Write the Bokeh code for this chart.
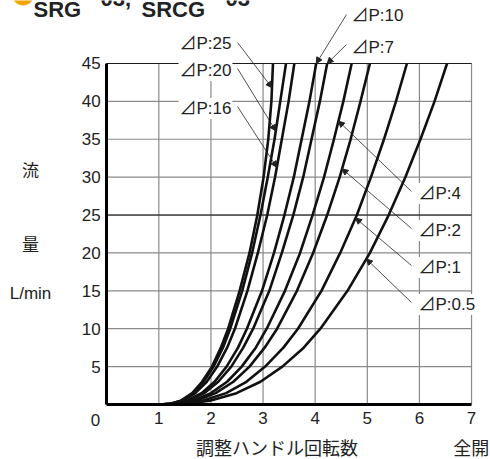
import numpy as np
from bokeh.plotting import figure
from bokeh.models import Label, Arrow, NormalHead, LinearAxis
from bokeh.embed import file_html
from bokeh.resources import INLINE

# flow (L/min) levels and handle turns at which each ΔP curve reaches them
flow_levels = [0, 0.1, 0.5, 1.5, 3, 5, 7.5, 10, 15, 20, 25, 30, 35, 40, 45]
turns_dp25 = [1, 1.22, 1.42, 1.64, 1.83, 2.02, 2.19, 2.33, 2.55, 2.74, 2.89, 3.01, 3.10, 3.16, 3.19]
turns_dp20 = [1, 1.23, 1.43, 1.66, 1.86, 2.05, 2.23, 2.37, 2.60, 2.79, 2.95, 3.09, 3.22, 3.33, 3.44]
turns_dp16 = [1, 1.25, 1.46, 1.70, 1.92, 2.12, 2.31, 2.46, 2.70, 2.90, 3.08, 3.23, 3.36, 3.49, 3.60]
turns_dp10 = [1, 1.29, 1.53, 1.82, 2.07, 2.30, 2.52, 2.69, 2.98, 3.21, 3.41, 3.59, 3.74, 3.89, 4.02]
turns_dp7 = [1, 1.31, 1.57, 1.87, 2.14, 2.39, 2.62, 2.81, 3.12, 3.36, 3.58, 3.77, 3.93, 4.09, 4.23]
turns_dp4 = [1, 1.35, 1.66, 2.00, 2.31, 2.59, 2.86, 3.07, 3.42, 3.71, 3.95, 4.17, 4.36, 4.54, 4.70]
turns_dp2 = [1, 1.38, 1.72, 2.09, 2.43, 2.74, 3.03, 3.27, 3.65, 3.96, 4.23, 4.47, 4.68, 4.87, 5.05]
turns_dp1 = [1, 1.45, 1.84, 2.29, 2.68, 3.04, 3.39, 3.67, 4.12, 4.48, 4.80, 5.07, 5.32, 5.55, 5.76]
turns_dp05 = [1, 1.53, 1.98, 2.49, 2.95, 3.37, 3.78, 4.10, 4.62, 5.05, 5.41, 5.73, 6.02, 6.29, 6.53]

curve_labels = ["⊿P:25", "⊿P:20", "⊿P:16", "⊿P:10", "⊿P:7", "⊿P:4", "⊿P:2", "⊿P:1", "⊿P:0.5"]
curve_turns = [turns_dp25, turns_dp20, turns_dp16, turns_dp10, turns_dp7,
               turns_dp4, turns_dp2, turns_dp1, turns_dp05]

x_ticks = [1, 2, 3, 4, 5, 6, 7]
y_ticks = [5, 10, 15, 20, 25, 30, 35, 40, 45]

NUM_FONT = "Liberation Sans"
LABEL_FONT = "Liberation Sans, Noto Sans CJK JP"
CJK_FONT = "Noto Sans CJK JP"
INK = "#222222"

# the frame covers the whole canvas; axes are pinned at x=0 / y=0
p = figure(width=490, height=459, x_range=(-2.0376, 7.3637), y_range=(-7.258, 53.313),
           output_backend="svg", toolbar_location=None,
           x_axis_type=None, y_axis_type=None,
           min_border_left=0, min_border_right=0, min_border_top=0, min_border_bottom=0)
p.outline_line_color = None
p.background_fill_color = "white"
p.border_fill_color = "white"

# grid lines (limited to the chart area)
p.segment(x0=x_ticks, y0=[0] * len(x_ticks), x1=x_ticks, y1=[45] * len(x_ticks),
          line_color="#8a8a8a", line_width=1.2)
p.segment(x0=[0] * len(y_ticks), y0=y_ticks, x1=[7] * len(y_ticks), y1=y_ticks,
          line_color="#8a8a8a", line_width=1.2)
dark_rows = [25, 45]
p.segment(x0=[0] * len(dark_rows), y0=dark_rows, x1=[7] * len(dark_rows), y1=dark_rows,
          line_color="#1a1a1a", line_width=1.1)

# axes
xax = LinearAxis(fixed_location=0, bounds=(0, 7), ticker=x_ticks)
yax = LinearAxis(fixed_location=0, bounds=(0, 45), ticker=y_ticks)
for ax in (xax, yax):
    ax.axis_line_width = 3
    ax.axis_line_color = "black"
    ax.major_tick_in = 0
    ax.major_tick_out = 0
    ax.minor_tick_in = 0
    ax.minor_tick_out = 0
    ax.major_label_text_font = NUM_FONT
    ax.major_label_text_font_size = "17px"
    ax.major_label_text_color = INK
xax.major_label_standoff = 8
yax.major_label_standoff = 6
p.add_layout(xax, "below")
p.add_layout(yax, "left")

# curves
for t in curve_turns:
    p.line(t, flow_levels, line_color="#111111", line_width=2.6)

# ΔP labels and leader arrows
label_pos = [(1.378, 47.64), (1.378, 44.07), (1.378, 39.06), (4.678, 51.33), (4.678, 47.11),
             (5.963, 27.84), (5.963, 22.96), (5.963, 18.08), (5.963, 13.20)]
arrow_start = [(2.51, 47.77), (2.51, 44.34), (2.51, 39.32), (4.601, 51.46), (4.601, 47.5),
               (5.848, 28.11), (5.848, 23.23), (5.848, 18.34), (5.848, 13.46)]
tip_flow = [41.8, 36.1, 31.3, 45, 45, 37.4, 31.1, 24.6, 19.2]

for lab, (lx, ly), (sx, sy), tf, t in zip(curve_labels, label_pos, arrow_start, tip_flow, curve_turns):
    p.add_layout(Label(x=lx, y=ly, text=lab, text_font=LABEL_FONT, text_font_size="17px",
                       text_color=INK, text_align="left", text_baseline="middle",
                       background_fill_color="white", background_fill_alpha=1.0, padding=1))
    tx = float(np.interp(tf, flow_levels, t))
    p.add_layout(Arrow(x_start=sx, y_start=sy, x_end=tx, y_end=tf,
                       line_color=INK, line_width=0.8,
                       end=NormalHead(size=6, fill_color=INK, line_color=INK)))

# axis side texts
p.add_layout(Label(x=-0.215, y=-2.11, text="0", text_font=NUM_FONT, text_font_size="17px",
                   text_color=INK, text_align="center", text_baseline="middle"))
for txt, yy, font, fs in [("流", 31.01, CJK_FONT, "17px"), ("量", 21.25, CJK_FONT, "17px"),
                          ("L/min", 14.65, NUM_FONT, "17px")]:
    p.add_layout(Label(x=-1.462, y=yy, text=txt, text_font=font, text_font_size=fs,
                       text_color=INK, text_align="center", text_baseline="middle"))
p.add_layout(Label(x=3.267, y=-5.67, text="調整ハンドル回転数", text_font=CJK_FONT,
                   text_font_size="18px", text_color=INK, text_align="center",
                   text_baseline="middle"))
p.add_layout(Label(x=6.996, y=-5.67, text="全開", text_font=CJK_FONT,
                   text_font_size="18px", text_color=INK, text_align="center",
                   text_baseline="middle"))

# header (partly cut off at the top edge)
p.add_layout(Label(x=-1.6, y=54.4, text="●", text_font="DejaVu Sans", text_font_size="28px",
                   text_color="#f5a300", text_align="center", text_baseline="middle"))
for txt, xx, yy in [("SRG", -1.404, 52.06), ("03,", -0.119, 53.58),
                    ("SRCG", 0.668, 52.06), ("03", 2.279, 53.58)]:
    p.add_layout(Label(x=xx, y=yy, text=txt, text_font=NUM_FONT, text_font_size="22px",
                       text_font_style="bold", text_color=INK, text_align="left",
                       text_baseline="middle"))

open("out.html", "w").write(file_html(p, INLINE))
